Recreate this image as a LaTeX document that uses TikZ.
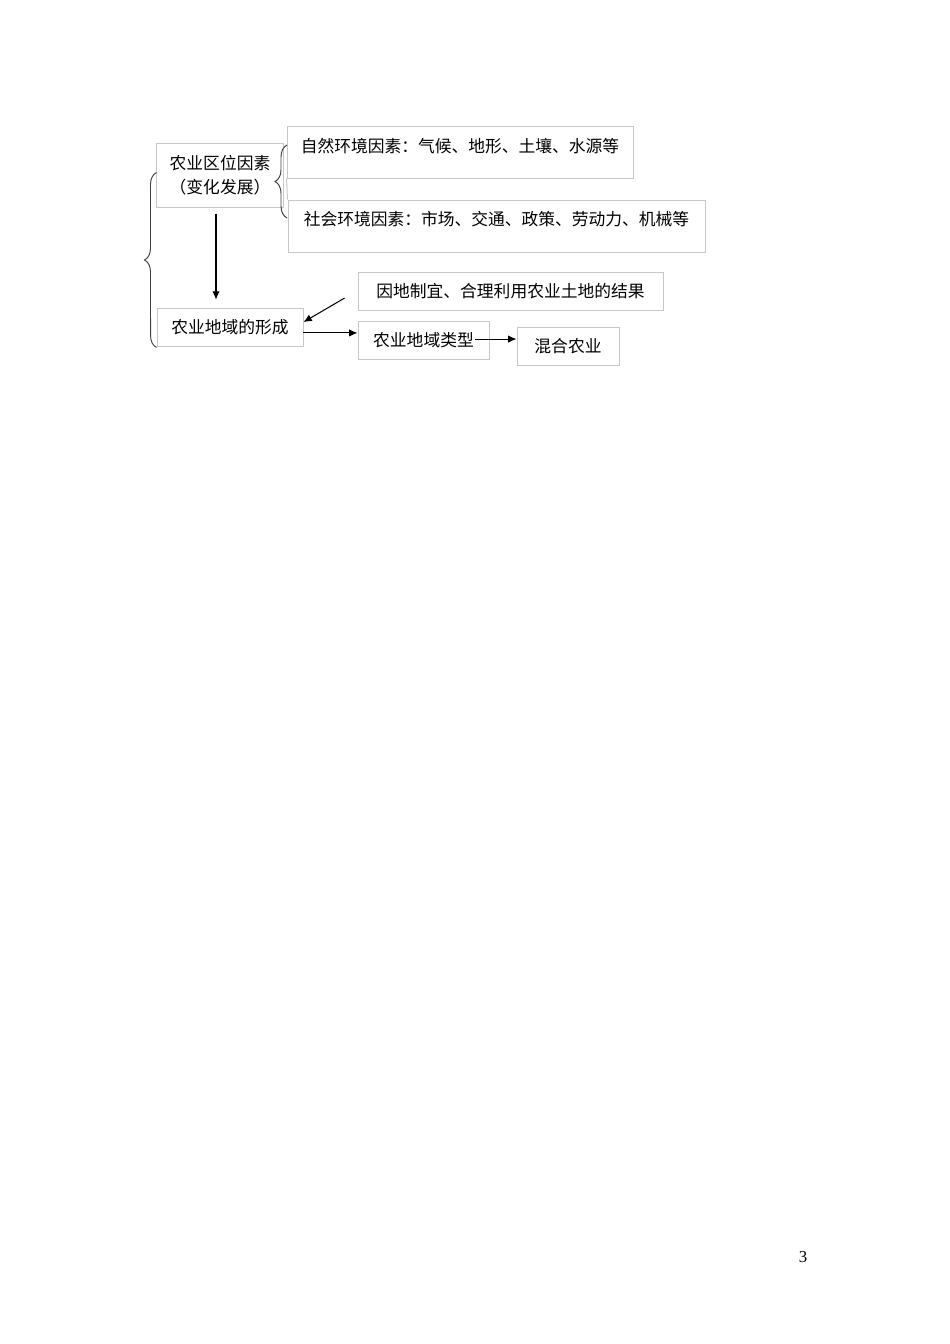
\documentclass[tikz,border=0pt]{standalone}
\usepackage{fontspec}
\setmainfont{Liberation Serif}
\newfontfamily\cjk{Noto Sans CJK SC}
\usetikzlibrary{decorations.pathreplacing,arrows.meta}

\tikzset{
  box/.style={draw=black!22, line width=0.6pt, inner sep=0pt, align=center,
    font=\cjk\fontsize{10.5}{15}\selectfont},
  toptext/.style={text depth=9.3pt},
  brace line/.style={draw=black!75, line width=0.6pt, decorate,
    decoration={brace, amplitude=7.5pt}},
  link/.style={-{Latex[length=5.2pt,width=4.6pt]}, line width=0.65pt}
}

\begin{document}
\begin{tikzpicture}[x=0.6266pt, y=-0.6266pt]
  \useasboundingbox (0,0) rectangle (950,1344);

  % factors
  \node[box, minimum width=79pt, minimum height=40.1pt] (factor) at (220,175)
    {农业区位因素\\（变化发展）};
  \node[box, toptext, minimum width=216.8pt, minimum height=32pt] (natural) at (460,152.5)
    {自然环境因素：气候、地形、土壤、水源等};
  \node[box, toptext, minimum width=261.3pt, minimum height=32.6pt] (social) at (496.5,226)
    {社会环境因素：市场、交通、政策、劳动力、机械等};
  \draw[draw=black!22, line width=0.6pt] (natural.south west) -- (social.north west);

  % formation and types
  \node[box, minimum width=91.5pt, minimum height=24.4pt] (formation) at (230,327.5)
    {农业地域的形成};
  \node[box, minimum width=191.1pt, minimum height=23.8pt] (reason) at (510.5,291)
    {因地制宜、合理利用农业土地的结果};
  \node[box, minimum width=82.1pt, minimum height=23.8pt] (type) at (423.5,340)
    {农业地域类型};
  \node[box, minimum width=63.9pt, minimum height=23.8pt] (mixed) at (568,346)
    {混合农业};

  % braces
  \draw[brace line] (formation.south west) -- ([yshift=-18.8pt]factor.north west);
  \draw[brace line] (287,218) -- (287,145);

  % arrows
  \draw[link] ([xshift=-2.5pt,yshift=-3.8pt]factor.south)
    -- ([xshift=-2.5pt,yshift=5pt]factor.south |- formation.north);
  \draw[link] ([xshift=-8.1pt,yshift=-4.4pt]reason.west) -- ([yshift=3.4pt]formation.east);
  \draw[link] ([yshift=-3.4pt]formation.east) -- ([yshift=-3.4pt]formation.east -| type.west);
  \draw[link] ([xshift=-8.8pt,yshift=0.6pt]type.east) -- ([yshift=0.6pt]type.east -| mixed.west);

  \node[font=\fontsize{10.5}{12}\selectfont] (pagenum) at (803,1257) {3};
\end{tikzpicture}
\end{document}
